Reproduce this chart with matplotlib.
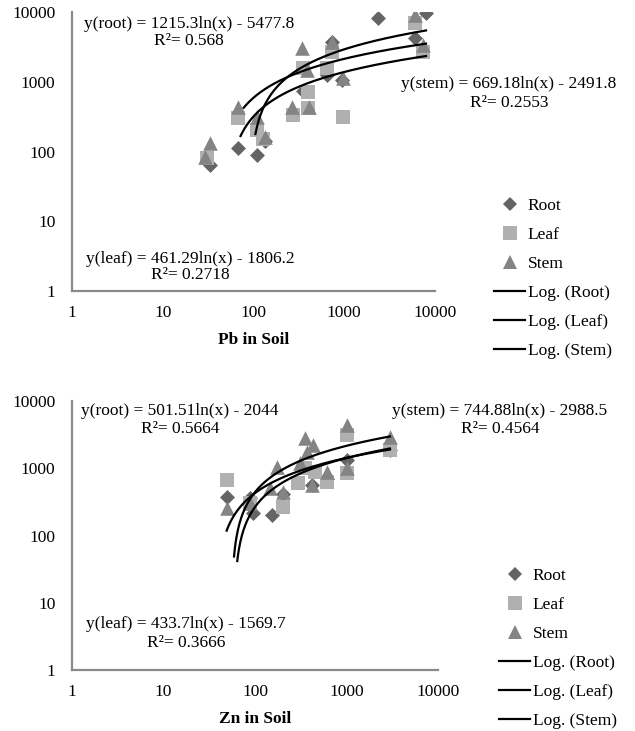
"""
Pb and Zn in soil vs. plant tissue, log-log scatter with log trend lines.
"""

import numpy as np
import matplotlib
matplotlib.use("Agg")
import matplotlib.pyplot as plt
from matplotlib.lines import Line2D

plt.rcParams["font.family"] = ["Liberation Serif", "DejaVu Serif"]
plt.rcParams["font.size"] = 12.5

W, H = 635, 731

# Pb panel data
pb_root_x = [33, 67, 109, 134, 350, 646, 733, 943, 2353, 6025, 7960]
pb_root_y = [64, 112, 89, 140, 740, 1250, 3700, 1070, 8200, 4240, 9700]
pb_leaf_x = [31, 67, 109, 128, 272, 400, 400, 350, 646, 733, 968, 6025, 7380]
pb_leaf_y = [80, 302, 203, 150, 334, 713, 421, 1580, 1575, 2670, 312, 6950, 2670]
pb_stem_x = [29, 33, 67, 109, 134, 266, 342, 389, 409, 733, 968, 6025, 7380]
pb_stem_y = [83, 132, 434, 312, 162, 434, 3050, 1475, 434, 3715, 1130, 9000, 3365]

# Zn panel data
zn_root_x = [49, 88, 95, 153, 202, 420, 612, 1012, 2985]
zn_root_y = [373, 361, 216, 202, 420, 560, 700, 1330, 1870]
zn_leaf_x = [49, 88, 202, 295, 352, 453, 612, 1012, 1012, 2985]
zn_leaf_y = [668, 300, 265, 604, 1000, 880, 625, 850, 3120, 1870]
zn_stem_x = [49, 88, 146, 174, 202, 310, 352, 370, 420, 430, 612, 1012, 1012, 2985]
zn_stem_y = [256, 300, 508, 1040, 443, 1200, 2820, 1745, 564, 2220, 880, 4400, 1010, 2920]

# log trend lines: (slope, intercept, first x, last x)
pb_fits = {
    "root": (1215.3, -5477.8, 105, 7960),
    "leaf": (461.29, -1806.2, 72, 7960),
    "stem": (669.18, -2491.8, 78, 7960),
}
zn_fits = {
    "root": (501.51, -2044, 64, 2985),
    "leaf": (433.7, -1569.7, 49, 2985),
    "stem": (744.88, -2988.5, 59, 2985),
}
pb_r2 = {"root": "0.568", "leaf": "0.2718", "stem": "0.2553"}
zn_r2 = {"root": "0.5664", "leaf": "0.3666", "stem": "0.4564"}

ticks = [1, 10, 100, 1000, 10000]
tick_labels = ["1", "10", "100", "1000", "10000"]

COLORS = {"root": "#646464", "leaf": "#B0B0B0", "stem": "#848484"}
MARKERS = {"root": ("D", 58), "leaf": ("s", 88), "stem": ("^", 110)}
AXIS_GREY = "#8A8A8A"


def fx(x):
    return x / W


def fy(y):
    return 1 - y / H


def panel(ax, series, fits, r2, xlabel, eq_pos, legend_pos):
    for name, (xs, ys) in series.items():
        m, s = MARKERS[name]
        ax.scatter(xs, ys, marker=m, s=s, color=COLORS[name], linewidths=0, zorder=3)
    for name in ["root", "leaf", "stem"]:
        a, b, x0, x1 = fits[name]
        xx = np.logspace(np.log10(x0), np.log10(x1), 200)
        ax.plot(xx, a * np.log(xx) + b, color="black", lw=1.6, zorder=4)

    ax.set_xscale("log")
    ax.set_yscale("log")
    ax.set_xlim(1, 10000)
    ax.set_ylim(1, 10000)
    ax.set_xticks(ticks, tick_labels)
    ax.set_yticks(ticks, tick_labels)
    ax.minorticks_off()
    ax.tick_params(axis="both", length=0)
    ax.tick_params(axis="x", pad=10)
    ax.tick_params(axis="y", pad=12)
    for side in ["top", "right"]:
        ax.spines[side].set_visible(False)
    for side in ["left", "bottom"]:
        ax.spines[side].set_color(AXIS_GREY)
        ax.spines[side].set_linewidth(1.6)
    ax.set_xlabel(xlabel, fontweight="bold", labelpad=8)

    fig = ax.figure
    for name, (cx, y1, y2) in eq_pos.items():
        a, b, _, _ = fits[name]
        sign = "-" if b < 0 else "+"
        line1 = f"y({name}) = {a:g}ln(x) {sign} {abs(b):g}"
        fig.text(fx(cx), fy(y1), line1, ha="center", va="baseline")
        fig.text(fx(cx), fy(y2), f"R²= {r2[name]}", ha="center", va="baseline")

    handles = [
        Line2D([], [], ls="none", marker="D", ms=7.6, color=COLORS["root"], mew=0),
        Line2D([], [], ls="none", marker="s", ms=9.4, color=COLORS["leaf"], mew=0),
        Line2D([], [], ls="none", marker="^", ms=10.5, color=COLORS["stem"], mew=0),
        Line2D([], [], color="black", lw=1.6),
        Line2D([], [], color="black", lw=1.6),
        Line2D([], [], color="black", lw=1.6),
    ]
    labels = ["Root", "Leaf", "Stem", "Log. (Root)", "Log. (Leaf)", "Log. (Stem)"]
    fig.legend(handles, labels, loc="upper left",
               bbox_to_anchor=(fx(legend_pos[0]), fy(legend_pos[1])),
               frameon=False, borderpad=0, borderaxespad=0,
               handlelength=1.8, handletextpad=0.15, labelspacing=0.74)


fig = plt.figure(figsize=(W / 100, H / 100), dpi=100)
ax1 = fig.add_axes([fx(72), fy(291), (435 - 72) / W, (291 - 12) / H])
ax2 = fig.add_axes([fx(72), fy(670), (438 - 72) / W, (670 - 401) / H])

panel(ax1,
      {"root": (pb_root_x, pb_root_y), "leaf": (pb_leaf_x, pb_leaf_y),
       "stem": (pb_stem_x, pb_stem_y)},
      pb_fits, pb_r2, "Pb in Soil",
      {"root": (189, 28, 45), "stem": (509, 88, 107), "leaf": (190, 263, 279)},
      (494, 198))

panel(ax2,
      {"root": (zn_root_x, zn_root_y), "leaf": (zn_leaf_x, zn_leaf_y),
       "stem": (zn_stem_x, zn_stem_y)},
      zn_fits, zn_r2, "Zn in Soil",
      {"root": (180, 415, 433), "stem": (500, 415, 433), "leaf": (186, 628, 647)},
      (499, 568))

fig.savefig("out.png", dpi=100)
